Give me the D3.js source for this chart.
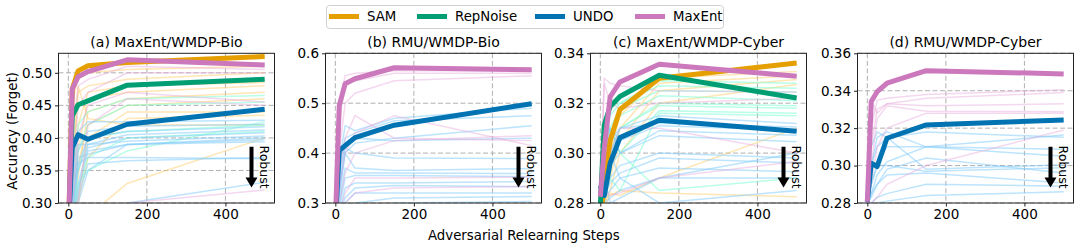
<!DOCTYPE html>
<html>
<head>
<meta charset="utf-8">
<script src="https://cdn.jsdelivr.net/npm/d3@7"></script>
<style>
  body { margin: 0; background: #fff; }
  svg text { font-family: "DejaVu Sans", sans-serif; fill: #000; }
</style>
</head>
<body>
<div id="grafico"></div>
<script>
const width = 1079
const height = 250

// adversarial relearning steps (x values of every line)
const steps = [0, 10, 25, 50, 150, 500]
const methods = ['SAM', 'RepNoise', 'UNDO', 'MaxEnt']
const titles = ['(a) MaxEnt/WMDP-Bio', '(b) RMU/WMDP-Bio', '(c) MaxEnt/WMDP-Cyber', '(d) RMU/WMDP-Cyber']
const xTicks = [0, 200, 400]
const yTicksA = [0.30, 0.35, 0.40, 0.45, 0.50]
const yTicksB = [0.3, 0.4, 0.5, 0.6]
const yTicksC = [0.28, 0.30, 0.32, 0.34]
const yTicksD = [0.28, 0.30, 0.32, 0.34, 0.36]

// (a) MaxEnt / WMDP-Bio
const aSAM = [0.25, 0.475, 0.503, 0.511, 0.516, 0.525]
const aRepNoise = [0.25, 0.434, 0.451, 0.457, 0.481, 0.490]
const aUNDO = [0.26, 0.385, 0.405, 0.398, 0.421, 0.444]
const aMaxEnt = [0.25, 0.475, 0.494, 0.502, 0.520, 0.512]
const aThinSAM = [
  [0.25, 0.45, 0.495, 0.50, 0.505, 0.51],
  [0.25, 0.36, 0.47, 0.48, 0.49, 0.50],
  [0.25, 0.30, 0.42, 0.47, 0.48, 0.485],
  [0.25, 0.28, 0.38, 0.46, 0.47, 0.48],
  [0.25, 0.27, 0.34, 0.44, 0.46, 0.47],
  [0.25, 0.30, 0.36, 0.42, 0.45, 0.46],
  [0.25, 0.27, 0.31, 0.40, 0.44, 0.44],
  [0.25, 0.26, 0.30, 0.37, 0.43, 0.435],
  [0.25, 0.26, 0.27, 0.28, 0.33, 0.40],
  [0.25, 0.32, 0.48, 0.43, 0.42, 0.42]
]
const aThinRepNoise = [
  [0.25, 0.34, 0.42, 0.44, 0.46, 0.465],
  [0.25, 0.30, 0.38, 0.42, 0.45, 0.455],
  [0.25, 0.28, 0.35, 0.40, 0.41, 0.42],
  [0.25, 0.27, 0.32, 0.37, 0.40, 0.41],
  [0.25, 0.29, 0.33, 0.35, 0.38, 0.425]
]
const aThinUNDO = [
  [0.26, 0.33, 0.41, 0.425, 0.425, 0.427],
  [0.26, 0.31, 0.38, 0.41, 0.418, 0.421],
  [0.26, 0.30, 0.36, 0.40, 0.41, 0.417],
  [0.26, 0.29, 0.35, 0.39, 0.405, 0.412],
  [0.26, 0.28, 0.33, 0.385, 0.40, 0.408],
  [0.26, 0.32, 0.39, 0.39, 0.395, 0.403],
  [0.26, 0.27, 0.32, 0.38, 0.39, 0.397],
  [0.26, 0.30, 0.37, 0.375, 0.39, 0.394],
  [0.26, 0.29, 0.36, 0.37, 0.37, 0.368],
  [0.26, 0.27, 0.28, 0.29, 0.30, 0.332],
  [0.26, 0.28, 0.31, 0.36, 0.365, 0.37],
  [0.26, 0.27, 0.30, 0.35, 0.39, 0.40]
]
const aThinMaxEnt = [
  [0.25, 0.40, 0.48, 0.49, 0.51, 0.505],
  [0.25, 0.33, 0.45, 0.47, 0.50, 0.50],
  [0.25, 0.29, 0.40, 0.45, 0.47, 0.455],
  [0.25, 0.27, 0.30, 0.42, 0.46, 0.45],
  [0.25, 0.26, 0.27, 0.28, 0.30, 0.32]
]

// (b) RMU / WMDP-Bio
const bUNDO = [0.26, 0.405, 0.415, 0.431, 0.456, 0.499]
const bMaxEnt = [0.26, 0.495, 0.539, 0.549, 0.571, 0.567]
const bThinUNDO = [
  [0.26, 0.38, 0.455, 0.445, 0.47, 0.49],
  [0.26, 0.36, 0.43, 0.44, 0.465, 0.475],
  [0.26, 0.33, 0.40, 0.42, 0.43, 0.455],
  [0.26, 0.32, 0.41, 0.40, 0.39, 0.389],
  [0.26, 0.31, 0.40, 0.37, 0.365, 0.369],
  [0.26, 0.30, 0.37, 0.36, 0.36, 0.359],
  [0.26, 0.29, 0.35, 0.355, 0.355, 0.353],
  [0.26, 0.28, 0.33, 0.34, 0.34, 0.343],
  [0.26, 0.28, 0.31, 0.33, 0.335, 0.333],
  [0.26, 0.27, 0.30, 0.32, 0.32, 0.32],
  [0.26, 0.27, 0.29, 0.30, 0.31, 0.313],
  [0.26, 0.27, 0.28, 0.29, 0.30, 0.303],
  [0.26, 0.34, 0.42, 0.43, 0.425, 0.43]
]
const bThinMaxEnt = [
  [0.26, 0.50, 0.555, 0.56, 0.565, 0.565],
  [0.26, 0.46, 0.54, 0.545, 0.56, 0.56],
  [0.26, 0.40, 0.50, 0.52, 0.545, 0.555],
  [0.26, 0.36, 0.43, 0.475, 0.43, 0.425],
  [0.26, 0.33, 0.40, 0.44, 0.475, 0.415],
  [0.26, 0.30, 0.36, 0.40, 0.425, 0.435],
  [0.26, 0.28, 0.32, 0.35, 0.35, 0.352],
  [0.26, 0.27, 0.30, 0.32, 0.33, 0.333]
]

// (c) MaxEnt / WMDP-Cyber
const cSAM = [0.272, 0.288, 0.305, 0.3175, 0.330, 0.3361]
const cRepNoise = [0.279, 0.3113, 0.3187, 0.3227, 0.3312, 0.3221]
const cUNDO = [0.287, 0.283, 0.296, 0.3062, 0.3132, 0.3088]
const cMaxEnt = [0.2825, 0.302, 0.3225, 0.3285, 0.3356, 0.3308]
const cThinSAM = [
  [0.275, 0.285, 0.30, 0.315, 0.33, 0.3327],
  [0.275, 0.28, 0.295, 0.31, 0.328, 0.331],
  [0.275, 0.28, 0.29, 0.305, 0.325, 0.3295],
  [0.275, 0.28, 0.285, 0.30, 0.32, 0.3275],
  [0.275, 0.278, 0.283, 0.285, 0.284, 0.2825],
  [0.275, 0.28, 0.284, 0.283, 0.29, 0.31]
]
const cThinRepNoise = [
  [0.28, 0.31, 0.318, 0.32, 0.329, 0.328],
  [0.28, 0.30, 0.315, 0.32, 0.327, 0.326],
  [0.28, 0.305, 0.31, 0.318, 0.325, 0.3245],
  [0.28, 0.29, 0.305, 0.315, 0.323, 0.321],
  [0.28, 0.295, 0.30, 0.31, 0.32, 0.319],
  [0.28, 0.285, 0.30, 0.31, 0.319, 0.318],
  [0.28, 0.29, 0.31, 0.30, 0.317, 0.316],
  [0.28, 0.30, 0.29, 0.285, 0.316, 0.315],
  [0.28, 0.315, 0.31, 0.30, 0.285, 0.29]
]
const cThinUNDO = [
  [0.285, 0.29, 0.30, 0.31, 0.315, 0.3119],
  [0.285, 0.295, 0.305, 0.31, 0.312, 0.3105],
  [0.285, 0.30, 0.31, 0.305, 0.311, 0.3092],
  [0.285, 0.288, 0.295, 0.30, 0.309, 0.3072],
  [0.285, 0.29, 0.31, 0.30, 0.307, 0.3045],
  [0.285, 0.28, 0.29, 0.295, 0.30, 0.298],
  [0.285, 0.283, 0.288, 0.292, 0.298, 0.296],
  [0.285, 0.282, 0.285, 0.29, 0.294, 0.2925],
  [0.285, 0.28, 0.282, 0.285, 0.29, 0.29],
  [0.285, 0.31, 0.30, 0.29, 0.28, 0.285],
  [0.285, 0.29, 0.28, 0.282, 0.29, 0.30]
]
const cThinMaxEnt = [
  [0.282, 0.33, 0.328, 0.327, 0.325, 0.3245],
  [0.282, 0.328, 0.32, 0.318, 0.32, 0.322],
  [0.282, 0.29, 0.30, 0.31, 0.31, 0.30],
  [0.282, 0.285, 0.283, 0.284, 0.29, 0.2966]
]

// (d) RMU / WMDP-Cyber
const dUNDO = [0.2807, 0.3013, 0.2995, 0.3146, 0.3217, 0.3244]
const dMaxEnt = [0.2807, 0.3342, 0.3395, 0.344, 0.3507, 0.349]
const dThinUNDO = [
  [0.28, 0.30, 0.315, 0.318, 0.31, 0.3163],
  [0.28, 0.31, 0.318, 0.315, 0.318, 0.3151],
  [0.28, 0.29, 0.30, 0.31, 0.31, 0.3087],
  [0.28, 0.285, 0.295, 0.302, 0.31, 0.305],
  [0.28, 0.30, 0.31, 0.315, 0.298, 0.3005],
  [0.28, 0.29, 0.30, 0.30, 0.297, 0.2988],
  [0.28, 0.285, 0.29, 0.298, 0.304, 0.296],
  [0.28, 0.283, 0.29, 0.295, 0.296, 0.2907],
  [0.28, 0.28, 0.283, 0.285, 0.29, 0.289],
  [0.28, 0.279, 0.28, 0.281, 0.284, 0.286]
]
const dThinMaxEnt = [
  [0.28, 0.32, 0.335, 0.336, 0.338, 0.3405],
  [0.28, 0.31, 0.33, 0.333, 0.336, 0.339],
  [0.28, 0.335, 0.328, 0.333, 0.332, 0.333],
  [0.28, 0.30, 0.325, 0.332, 0.329, 0.3288],
  [0.28, 0.29, 0.31, 0.32, 0.328, 0.328],
  [0.28, 0.28, 0.283, 0.29, 0.30, 0.319]
]

const colors = { SAM: '#e69f00', RepNoise: '#029e73', UNDO: '#0173b2', MaxEnt: '#cc78bc' }
const thinColors = { SAM: '#ffcd6b', RepNoise: '#7fffd4', UNDO: '#87cefa', MaxEnt: '#e6a8dc' }
const thinOpacity = { SAM: 0.5, RepNoise: 0.55, UNDO: 0.55, MaxEnt: 0.45 }

const panels = [
  { title: titles[0], left: 58.5, domain: [0.30, 0.53], ticks: yTicksA, fmt: '.2f',
    main: { SAM: aSAM, RepNoise: aRepNoise, UNDO: aUNDO, MaxEnt: aMaxEnt },
    thin: { SAM: aThinSAM, RepNoise: aThinRepNoise, UNDO: aThinUNDO, MaxEnt: aThinMaxEnt } },
  { title: titles[1], left: 325.5, domain: [0.3, 0.6], ticks: yTicksB, fmt: '.1f',
    main: { UNDO: bUNDO, MaxEnt: bMaxEnt },
    thin: { UNDO: bThinUNDO, MaxEnt: bThinMaxEnt } },
  { title: titles[2], left: 590.5, domain: [0.28, 0.34], ticks: yTicksC, fmt: '.2f',
    main: { SAM: cSAM, RepNoise: cRepNoise, UNDO: cUNDO, MaxEnt: cMaxEnt },
    thin: { SAM: cThinSAM, RepNoise: cThinRepNoise, UNDO: cThinUNDO, MaxEnt: cThinMaxEnt } },
  { title: titles[3], left: 857.5, domain: [0.28, 0.36], ticks: yTicksD, fmt: '.2f',
    main: { UNDO: dUNDO, MaxEnt: dMaxEnt },
    thin: { UNDO: dThinUNDO, MaxEnt: dThinMaxEnt } }
]

const pw = 216
const plotTop = 53.3
const plotBottom = 203

const svg = d3.select('#grafico').append('svg')
              .attr('width', width)
              .attr('height', height)

const x = d3.scaleLinear().domain([-25, 525]).range([0, pw])

panels.forEach((p, i) => {
    const ph = plotBottom - plotTop
    const y = d3.scaleLinear().domain(p.domain).range([ph, 0])
    const g = svg.append('g').attr('transform', `translate(${p.left}, ${plotTop})`)

    g.append('clipPath').attr('id', 'clip' + i)
     .append('rect').attr('width', pw).attr('height', ph)

    // grid
    g.append('g').selectAll('line').data(xTicks).enter().append('line')
     .attr('x1', d => x(d)).attr('x2', d => x(d)).attr('y1', 0).attr('y2', ph)
     .attr('stroke', '#b0b0b0').attr('stroke-dasharray', '5,2.5').attr('stroke-width', 1)
    g.append('g').selectAll('line').data(p.ticks).enter().append('line')
     .attr('x1', 0).attr('x2', pw).attr('y1', d => y(d)).attr('y2', d => y(d))
     .attr('stroke', '#b0b0b0').attr('stroke-dasharray', '5,2.5').attr('stroke-width', 1)

    const line = d3.line().x((d, k) => x(steps[k])).y(d => y(d))
    const plot = g.append('g').attr('clip-path', `url(#clip${i})`)

    methods.forEach(m => {
        if (!p.thin[m]) return
        plot.append('g').selectAll('path').data(p.thin[m]).enter().append('path')
            .attr('d', line)
            .attr('fill', 'none')
            .attr('stroke', thinColors[m])
            .attr('stroke-opacity', thinOpacity[m])
            .attr('stroke-width', 1.5)
    })
    methods.forEach(m => {
        if (!p.main[m]) return
        plot.append('path').datum(p.main[m])
            .attr('d', line)
            .attr('fill', 'none')
            .attr('stroke', colors[m])
            .attr('stroke-width', 5)
            .attr('stroke-linejoin', 'round')
    })

    // axes
    const ya = g.append('g').call(d3.axisLeft(y).tickValues(p.ticks).tickFormat(d3.format(p.fmt)).tickSize(3.5).tickPadding(3))
    const xa = g.append('g').attr('transform', `translate(0, ${ph})`)
                .call(d3.axisBottom(x).tickValues(xTicks).tickSize(3.5).tickPadding(3))
    ;[ya, xa].forEach(a => {
        a.select('.domain').remove()
        a.selectAll('text').attr('font-size', 13.5).attr('font-family', 'DejaVu Sans')
        a.selectAll('line').attr('stroke', '#222')
    })

    g.append('rect').attr('width', pw).attr('height', ph)
     .attr('fill', 'none').attr('stroke', '#222').attr('stroke-width', 1)

    g.append('text').attr('x', pw / 2).attr('y', -6.5)
     .attr('text-anchor', 'middle').attr('font-size', 14).text(p.title)

    // robust arrow
    const ax = 193, ay0 = 146.7 - plotTop, ay1 = 187.5 - plotTop
    g.append('path')
     .attr('d', `M${ax - 2},${ay0} L${ax + 2},${ay0} L${ax + 2},${ay1 - 10} L${ax + 6},${ay1 - 10} L${ax},${ay1} L${ax - 6},${ay1 - 10} L${ax - 2},${ay1 - 10} Z`)
     .attr('fill', '#000')
    g.append('text')
     .attr('transform', `translate(${ax + 8}, ${(ay0 + ay1) / 2}) rotate(90)`)
     .attr('text-anchor', 'middle').attr('font-size', 12.5).text('Robust')
})

svg.append('text')
   .attr('transform', `translate(16.5, 131) rotate(-90)`)
   .attr('text-anchor', 'middle').attr('font-size', 13.3).text('Accuracy (Forget)')

svg.append('text').attr('x', 428).attr('y', 239.5)
   .attr('font-size', 13.3).text('Adversarial Relearning Steps')

// legend
const legend = svg.append('g')
legend.append('rect').attr('x', 326.5).attr('y', 5.5).attr('width', 397).attr('height', 23)
      .attr('rx', 3).attr('fill', '#fff').attr('fill-opacity', 0.8)
      .attr('stroke', '#d0d0d0').attr('stroke-width', 1)
const legendX = [329, 417, 535, 635]
methods.forEach((m, k) => {
    legend.append('line').attr('x1', legendX[k]).attr('x2', legendX[k] + 30)
          .attr('y1', 16.5).attr('y2', 16.5)
          .attr('stroke', colors[m]).attr('stroke-width', 5)
    legend.append('text').attr('x', legendX[k] + 38).attr('y', 21.3)
          .attr('font-size', 13.3).text(m)
})
</script>
</body>
</html>
